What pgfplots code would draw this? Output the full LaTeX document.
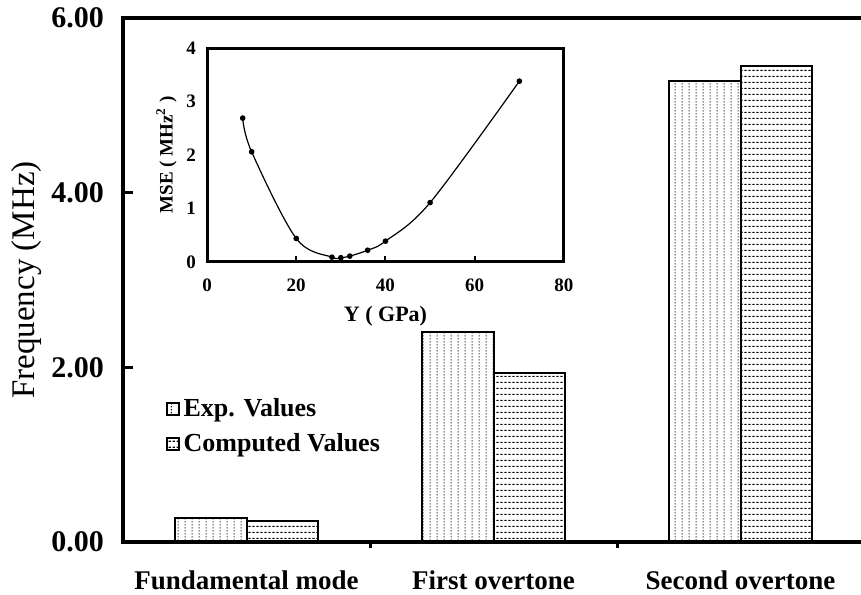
\documentclass[border=0pt]{standalone}
\usepackage{fontspec}
\setmainfont{Liberation Serif}
\usepackage{pgfplots}
\usepackage{pgfplotstable}
\pgfplotsset{compat=1.18}
\usetikzlibrary{patterns}

% dotted vertical columns
\pgfdeclarepatternformonly{vdots}{\pgfpointorigin}{\pgfpoint{3.5pt}{1.5pt}}{\pgfpoint{3.5pt}{1.5pt}}{%
  \pgfpathrectangle{\pgfpoint{1.5pt}{0.4pt}}{\pgfpoint{0.6pt}{0.7pt}}\pgfusepath{fill}}
% dashed horizontal rows
\pgfdeclarepatternformonly{hdash}{\pgfpointorigin}{\pgfpoint{2pt}{3pt}}{\pgfpoint{2pt}{3pt}}{%
  \pgfpathrectangle{\pgfpoint{0.3pt}{1.2pt}}{\pgfpoint{1.4pt}{0.65pt}}\pgfusepath{fill}}

\pgfplotstableread{
x exp comp
0 0.27 0.24
1 2.40 1.94
2 5.28 5.45
}\freqdata

\pgfplotstableread{
Y mse
8  2.69
10 2.06
20 0.44
28 0.09
30 0.08
32 0.11
36 0.22
40 0.39
50 1.11
70 3.38
}\msedata

\begin{document}
\begin{tikzpicture}
\begin{axis}[
  at={(61.5pt,26pt)}, anchor=south west,
  scale only axis, width=370.5pt, height=262pt,
  xmin=-0.5, xmax=2.5, ymin=0, ymax=6,
  axis line style={line width=2pt},
  ytick={0,2,4,6},
  yticklabel style={font=\bfseries\fontsize{15}{17}\selectfont, xshift=-6pt,
    /pgf/number format/fixed, /pgf/number format/fixed zerofill,
    /pgf/number format/precision=2},
  /pgf/number format/assume math mode=true,
  ytick style={line width=1.5pt, black},
  major tick length=5pt,
  tick align=inside,
  ytick pos=left,
  xtick pos=bottom,
  xtick={0,1,2},
  xticklabels={Fundamental mode, First overtone, Second overtone},
  xticklabel style={font=\bfseries\fontsize{13.5}{15}\selectfont, yshift=-6pt},
  xtick style={draw=none},
  extra x ticks={0.5,1.5},
  extra x tick labels={},
  extra x tick style={xtick style={draw=black, line width=1.5pt}, major tick length=3pt},
  ylabel={Frequency (MHz)},
  ylabel style={font=\fontsize{16.5}{18}\selectfont, yshift=-2pt},
  ybar, bar width=0.29,
  legend style={draw=none, fill=none, at={(0.05,0.29)}, anchor=north west,
    font=\bfseries\fontsize{13}{15}\selectfont, row sep=3pt,
    legend cell align=left},
  legend image code/.code={\draw[#1] (0pt,-2.8pt) rectangle (5.6pt,2.8pt);},
]
\addplot[bar shift=-0.145, draw=black, line width=1pt, pattern=vdots, pattern color=black]
  table[x=x, y=exp] {\freqdata};
\addlegendentry{Exp. Values}
\addplot[bar shift=0.145, draw=black, line width=1pt, pattern=hdash, pattern color=black]
  table[x=x, y=comp] {\freqdata};
\addlegendentry{Computed Values}
\end{axis}

\begin{axis}[
  at={(103.5pt,166pt)}, anchor=south west,
  scale only axis, width=178.5pt, height=107pt,
  xmin=0, xmax=80, ymin=0, ymax=4,
  axis background/.style={fill=white},
  axis line style={line width=1.5pt},
  xtick={0,20,40,60,80}, ytick={0,1,2,3,4},
  tick align=inside, major tick length=3pt,
  xtick pos=bottom, ytick pos=left,
  ytick style={draw=none},
  xtick style={line width=1pt, black},
  ticklabel style={font=\bfseries\fontsize{9.5}{11}\selectfont},
  /pgf/number format/assume math mode=true,
  xticklabel style={yshift=-5pt},
  yticklabel style={xshift=-2pt},
  xlabel={Y ( GPa)},
  ylabel={MSE ( MHz\textsuperscript{2} )},
  xlabel style={font=\bfseries\fontsize{11}{12}\selectfont, yshift=-0.5pt},
  ylabel style={font=\bfseries\fontsize{9.5}{11}\selectfont, yshift=-2pt},
]
\addplot[black, line width=0.6pt, smooth, tension=0.55, mark=*, mark size=1.1pt]
  table[x=Y, y=mse] {\msedata};
\end{axis}

\pgfresetboundingbox
\path[use as bounding box] (0,0) rectangle (430.5pt,297pt);
\end{tikzpicture}
\end{document}
